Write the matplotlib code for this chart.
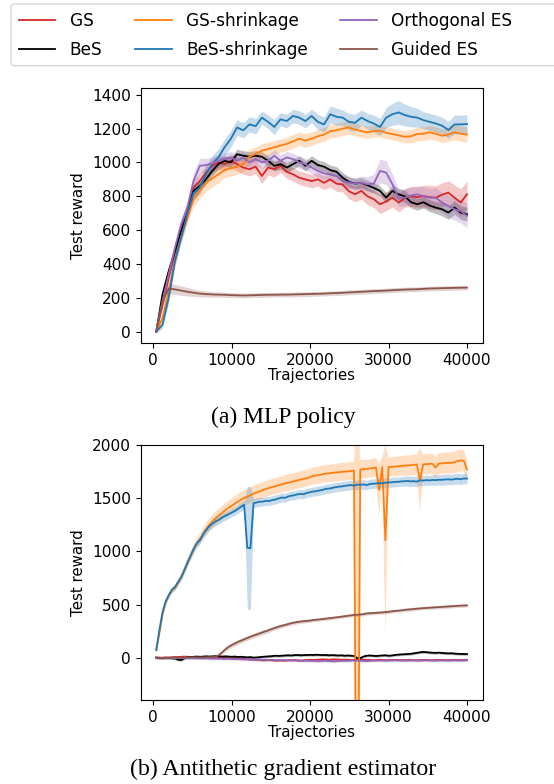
import numpy as np
import matplotlib
matplotlib.use("Agg")
import matplotlib.pyplot as plt
from matplotlib.patches import FancyBboxPatch
from matplotlib.transforms import IdentityTransform

# ---------------- data ----------------
LABELS = ["GS", "BeS", "GS-shrinkage", "BeS-shrinkage", "Orthogonal ES", "Guided ES"]
COLORS = ["#d62728", "black", "#ff7f0e", "#1f77b4", "#9467bd", "#8c564b"]

X_TICKS = [0, 10000, 20000, 30000, 40000]
Y_TICKS_A = [0, 200, 400, 600, 800, 1000, 1200, 1400]
Y_TICKS_B = [0, 500, 1000, 1500, 2000]

# (a) MLP policy: 51 evaluation points from 400 to 40000 trajectories
x_a = np.linspace(400, 40000, 51)

gs_a = [0, 160, 318, 466, 615, 723, 852, 891, 940, 980,
        1000, 990, 1010, 990, 970, 960, 975, 920, 970, 960,
        980, 945, 930, 910, 900, 890, 900, 880, 900, 875,
        870, 830, 812, 832, 800, 783, 753, 770, 792, 763,
        790, 800, 795, 802, 795, 792, 810, 822, 792, 763, 812]
bes_a = [0, 220, 358, 476, 595, 694, 832, 861, 901, 950,
         990, 1010, 1000, 1049, 1040, 1034, 1040, 1034, 1010, 980,
         990, 970, 990, 1010, 980, 1010, 985, 975, 955, 945,
         910, 885, 875, 880, 865, 850, 832, 792, 832, 812,
         800, 765, 753, 765, 745, 733, 723, 704, 733, 704, 694]
gss_a = [0, 80, 240, 417, 555, 674, 780, 832, 881, 905,
         930, 955, 965, 975, 990, 1035, 1050, 1070, 1080, 1090,
         1100, 1110, 1125, 1140, 1130, 1140, 1155, 1165, 1185, 1190,
         1200, 1207, 1195, 1185, 1178, 1185, 1188, 1175, 1168, 1160,
         1152, 1155, 1168, 1170, 1178, 1170, 1158, 1165, 1178, 1170, 1165]
bess_a = [0, 40, 200, 417, 555, 694, 820, 852, 930, 990,
          1030, 1090, 1140, 1207, 1190, 1225, 1215, 1265, 1240, 1210,
          1255, 1245, 1275, 1265, 1245, 1275, 1240, 1225, 1285, 1270,
          1265, 1240, 1235, 1265, 1245, 1230, 1210, 1265, 1285, 1296,
          1280, 1270, 1265, 1250, 1240, 1230, 1217, 1192, 1225, 1225, 1227]
orth_a = [0, 180, 338, 496, 634, 733, 891, 980, 985, 995,
          1010, 1020, 1030, 1010, 1030, 1000, 1020, 1000, 1010, 1040,
          1010, 1030, 1020, 1000, 990, 970, 950, 935, 930, 920,
          891, 881, 875, 880, 871, 875, 950, 940, 871, 790,
          792, 805, 812, 800, 792, 790, 763, 743, 723, 713, 684]
guid_a = [0, 180, 255, 250, 243, 236, 230, 225, 222, 220,
          219, 218, 216, 215, 214, 215, 216, 217, 218, 218,
          219, 219, 220, 221, 222, 223, 224, 225, 227, 228,
          230, 232, 234, 236, 238, 240, 241, 243, 245, 247,
          249, 250, 251, 253, 255, 256, 257, 258, 259, 260, 260]

gs_a_sd = [5, 25, 30, 35, 40, 40, 45, 45, 45, 40,
           40, 40, 40, 40, 40, 40, 40, 45, 45, 45,
           40, 40, 40, 40, 40, 40, 40, 40, 45, 45,
           45, 45, 45, 50, 50, 50, 55, 55, 55, 55,
           55, 60, 60, 65, 70, 70, 70, 70, 75, 80, 80]
bes_a_sd = [5, 20, 25, 25, 25, 30, 30, 30, 30, 30,
            30, 30, 30, 30, 30, 30, 30, 30, 30, 30,
            30, 30, 30, 30, 30, 30, 30, 30, 30, 30,
            30, 30, 30, 30, 30, 30, 30, 30, 35, 35,
            35, 35, 35, 35, 35, 35, 40, 40, 40, 40, 40]
gss_a_sd = [5, 20, 25, 30, 30, 35, 40, 45, 50, 50,
            50, 45, 45, 45, 45, 45, 40, 40, 40, 40,
            40, 40, 40, 40, 40, 40, 40, 40, 40, 40,
            40, 40, 40, 35, 35, 35, 35, 35, 35, 35,
            35, 40, 40, 40, 40, 40, 40, 40, 45, 45, 45]
bess_a_sd = [5, 20, 30, 30, 30, 32, 35, 40, 45, 50,
             50, 50, 50, 45, 45, 45, 45, 40, 40, 45,
             40, 40, 40, 40, 40, 40, 45, 45, 50, 50,
             45, 50, 50, 45, 45, 50, 50, 60, 65, 70,
             65, 60, 55, 50, 50, 50, 50, 50, 55, 55, 55]
orth_a_sd = [5, 25, 30, 30, 35, 40, 45, 45, 40, 40,
             35, 35, 35, 35, 35, 35, 35, 35, 35, 35,
             35, 35, 35, 35, 35, 35, 35, 35, 35, 35,
             35, 35, 35, 40, 45, 55, 70, 70, 60, 50,
             50, 50, 50, 55, 55, 60, 60, 65, 65, 70, 70]
guid_a_sd = [3, 25, 30, 30, 28, 25, 22, 20, 18, 16,
             15, 15, 15, 14, 14, 14, 14, 14, 14, 14,
             14, 14, 14, 14, 14, 14, 14, 14, 14, 14,
             14, 14, 14, 14, 14, 14, 14, 14, 14, 14,
             14, 14, 14, 14, 14, 14, 14, 14, 14, 14, 14]

# (b) Antithetic gradient estimator: 100 evaluation points from 400 to 40000
x_b = np.linspace(400, 40000, 100)

gs_b = [0, -2, 0, 2, 0, 3, 5, 6, 8, 10,
        8, 6, 5, 4, 3, 4, 2, 0, 1, -2,
        0, -3, -2, -5, -6, -4, -8, -10, -12, -15,
        -18, -18, -20, -22, -25, -24, -22, -25, -28, -26,
        -27, -28, -25, -24, -22, -26, -28, -25, -22, -20,
        -22, -20, -18, -16, -18, -20, -17, -16, -18, -20,
        -19, -20, -22, -21, -20, -22, -21, -20, -22, -24,
        -22, -20, -22, -24, -23, -22, -21, -22, -24, -23,
        -22, -22, -24, -25, -23, -22, -21, -23, -24, -22,
        -21, -22, -23, -24, -22, -21, -22, -23, -22, -22]
bes_b = [0, -2, -5, -3, -2, -6, -8, -20, -22, -5,
         3, 5, 8, 10, 8, 10, 12, 10, 12, 14,
         12, 10, 12, 10, 8, 10, 6, 8, 5, 3,
         5, 0, 2, 5, 8, 10, 12, 15, 18, 16,
         18, 20, 22, 20, 24, 25, 22, 24, 25, 26,
         25, 27, 26, 24, 25, 22, 24, 22, 20, 22,
         18, 20, 18, 16, -5, -6, 10, 18, 20, 18,
         15, 18, 20, 22, 18, 20, 25, 28, 30, 32,
         34, 36, 40, 45, 50, 53, 52, 48, 46, 45,
         47, 44, 42, 40, 41, 38, 36, 35, 34, 34]
gss_b = [70, 230, 405, 520, 585, 635, 660, 710, 760, 825,
         895, 960, 1025, 1080, 1120, 1170, 1215, 1255, 1285, 1315,
         1340, 1365, 1390, 1410, 1430, 1450, 1470, 1488, 1505, 1515,
         1530, 1545, 1555, 1568, 1578, 1590, 1598, 1608, 1615, 1625,
         1633, 1640, 1648, 1655, 1662, 1670, 1677, 1684, 1690, 1700,
         1712, 1716, 1720, 1728, 1733, 1736, 1740, 1744, 1746, 1750,
         1752, 1755, 1758, 1762, -3000, 1772, 1775, 1778, 1782, 1785,
         1790, 1580, 1795, 1105, 1795, 1798, 1800, 1802, 1805, 1808,
         1810, 1812, 1815, 1820, 1672, 1820, 1822, 1825, 1826, 1790,
         1828, 1830, 1832, 1835, 1835, 1840, 1852, 1858, 1855, 1772]
bess_b = [72, 260, 430, 530, 590, 640, 665, 715, 760, 830,
          900, 965, 1030, 1080, 1110, 1165, 1205, 1240, 1265, 1285,
          1300, 1320, 1335, 1350, 1365, 1380, 1400, 1420, 1440, 1035,
          1030, 1455, 1462, 1468, 1470, 1478, 1475, 1485, 1490, 1500,
          1508, 1505, 1518, 1525, 1530, 1538, 1542, 1540, 1552, 1558,
          1565, 1568, 1575, 1580, 1590, 1592, 1598, 1605, 1610, 1612,
          1618, 1622, 1626, 1620, 1630, 1628, 1632, 1625, 1635, 1638,
          1640, 1645, 1642, 1648, 1650, 1652, 1655, 1656, 1660, 1662,
          1664, 1660, 1662, 1658, 1670, 1668, 1672, 1670, 1674, 1672,
          1676, 1675, 1678, 1680, 1676, 1682, 1685, 1680, 1688, 1686]
orth_b = [0, 0, -2, -3, -2, -4, -5, -3, -2, -4,
          -5, -5, -6, -7, -6, -8, -7, -9, -10, -9,
          -10, -11, -12, -10, -12, -14, -13, -15, -16, -15,
          -17, -18, -17, -19, -20, -22, -21, -20, -22, -24,
          -23, -25, -24, -26, -27, -26, -28, -30, -29, -30,
          -31, -32, -33, -31, -30, -32, -33, -34, -32, -31,
          -30, -30, -28, -27, -28, -30, -31, -32, -30, -28,
          -27, -26, -27, -28, -27, -26, -25, -26, -27, -28,
          -27, -26, -25, -27, -28, -26, -25, -26, -27, -28,
          -26, -25, -26, -27, -26, -25, -26, -27, -26, -25]
guid_b = [0, -2, -3, -1, 0, 2, 3, 2, 0, 1,
          2, 3, 4, 3, 2, 3, 4, 5, 5, 10,
          25, 50, 78, 100, 118, 132, 148, 160, 172, 185,
          197, 208, 218, 229, 240, 250, 260, 272, 282, 292,
          300, 308, 316, 324, 330, 336, 340, 343, 346, 349,
          354, 357, 360, 364, 367, 371, 374, 378, 382, 386,
          390, 394, 398, 402, 404, 406, 410, 416, 418, 420,
          422, 424, 426, 429, 432, 436, 440, 442, 445, 449,
          453, 455, 458, 461, 464, 466, 468, 470, 472, 474,
          476, 478, 480, 482, 484, 486, 488, 490, 491, 492]

gs_b_sd = 10
bes_b_sd = 12
orth_b_sd = 12
gss_b_sd = [10, 20, 25, 25, 25, 28, 30, 32, 35, 38,
            40, 42, 45, 48, 50, 55, 58, 60, 62, 64,
            65, 66, 67, 68, 70, 70, 70, 72, 72, 72,
            74, 74, 74, 75, 75, 75, 76, 76, 76, 77,
            77, 77, 78, 78, 78, 79, 79, 79, 80, 80,
            80, 80, 81, 81, 81, 82, 82, 82, 83, 83,
            84, 84, 85, 86, 5500, 90, 88, 86, 86, 88,
            88, 250, 90, 900, 90, 90, 92, 92, 92, 94,
            94, 94, 95, 95, 300, 95, 96, 96, 98, 98,
            98, 100, 100, 100, 100, 100, 102, 102, 100, 100]
bess_b_sd = [10, 20, 25, 25, 25, 25, 28, 30, 30, 32,
             32, 34, 35, 35, 36, 38, 38, 40, 40, 40,
             40, 40, 40, 40, 40, 40, 42, 42, 42, 580,
             580, 42, 42, 42, 42, 42, 42, 42, 42, 42,
             42, 42, 42, 42, 42, 42, 42, 42, 42, 42,
             44, 44, 44, 44, 44, 44, 44, 44, 44, 44,
             45, 45, 45, 45, 45, 45, 45, 45, 45, 45,
             46, 46, 46, 46, 46, 46, 46, 46, 46, 46,
             48, 48, 48, 48, 48, 48, 48, 48, 48, 48,
             50, 50, 50, 50, 50, 50, 50, 50, 50, 50]
guid_b_sd = [8, 8, 8, 8, 8, 8, 8, 8, 8, 8,
             8, 8, 8, 8, 8, 8, 8, 8, 9, 10,
             14, 18, 20, 22, 22, 22, 22, 22, 22, 22,
             22, 22, 22, 22, 22, 21, 21, 20, 20, 20,
             20, 19, 19, 18, 18, 18, 17, 17, 17, 16,
             16, 16, 16, 16, 16, 16, 16, 16, 16, 16,
             16, 16, 16, 16, 16, 16, 16, 16, 16, 16,
             16, 16, 16, 16, 16, 16, 16, 16, 16, 16,
             16, 16, 16, 16, 16, 16, 16, 16, 16, 16,
             16, 16, 16, 16, 16, 16, 16, 16, 16, 16]

SERIES_A = [(gs_a, gs_a_sd), (bes_a, bes_a_sd), (gss_a, gss_a_sd),
            (bess_a, bess_a_sd), (orth_a, orth_a_sd), (guid_a, guid_a_sd)]
SERIES_B = [(gs_b, gs_b_sd), (bes_b, bes_b_sd), (gss_b, gss_b_sd),
            (bess_b, bess_b_sd), (orth_b, orth_b_sd), (guid_b, guid_b_sd)]

# ---------------- plot ----------------
TICK_FS = 11.1
LABEL_FS = 10.8
plt.rcParams["font.family"] = ["DejaVu Sans"]
fig = plt.figure(figsize=(5.54, 7.84), dpi=100)
ax_a = fig.add_axes([0.254, 0.5625, 0.617, 0.325])
ax_b = fig.add_axes([0.254, 0.107, 0.617, 0.325])


def draw(ax, x, series):
    handles = []
    for (m, s), c, lab in zip(series, COLORS, LABELS):
        m = np.asarray(m, dtype=float)
        s = np.asarray(s, dtype=float)
        ax.fill_between(x, m - s, m + s, color=c, alpha=0.25, linewidth=0)
        h, = ax.plot(x, m, color=c, lw=1.3, label=lab)
        handles.append(h)
    return handles


handles = draw(ax_a, x_a, SERIES_A)
draw(ax_b, x_b, SERIES_B)

ax_a.set_ylim(-67, 1439)
ax_a.set_yticks(Y_TICKS_A)
ax_b.set_ylim(-400, 2000)
ax_b.set_yticks(Y_TICKS_B)
for ax in (ax_a, ax_b):
    ax.set_xlim(-1580, 41980)
    ax.set_xticks(X_TICKS)
    ax.tick_params(labelsize=TICK_FS)
    ax.set_xlabel("Trajectories", fontsize=LABEL_FS, labelpad=0)
    ax.set_ylabel("Test reward", fontsize=LABEL_FS)

# legend frame runs past the right edge of the figure, as in the reference
frame = FancyBboxPatch((11, 784 - 65.7), 580, 61.7,
                       boxstyle="round,pad=0,rounding_size=4",
                       transform=IdentityTransform(), facecolor="white",
                       edgecolor="0.8", linewidth=1.0, alpha=0.8, zorder=4)
fig.add_artist(frame)
fig.legend(handles, LABELS, loc="upper left", bbox_to_anchor=(0.0199, 0.995),
           ncol=3, fontsize=12.2, handlelength=2.17, handletextpad=0.85,
           columnspacing=1.9, labelspacing=0.66, borderpad=0.45,
           frameon=False, borderaxespad=0).set_zorder(5)

fig.text(0.511, 0.468, "(a) MLP policy", ha="center", va="center",
         fontsize=17, family="Liberation Serif")
fig.text(0.511, 0.018, "(b) Antithetic gradient estimator", ha="center",
         va="center", fontsize=17.2, family="Liberation Serif")

fig.savefig("out.png", dpi=100)
